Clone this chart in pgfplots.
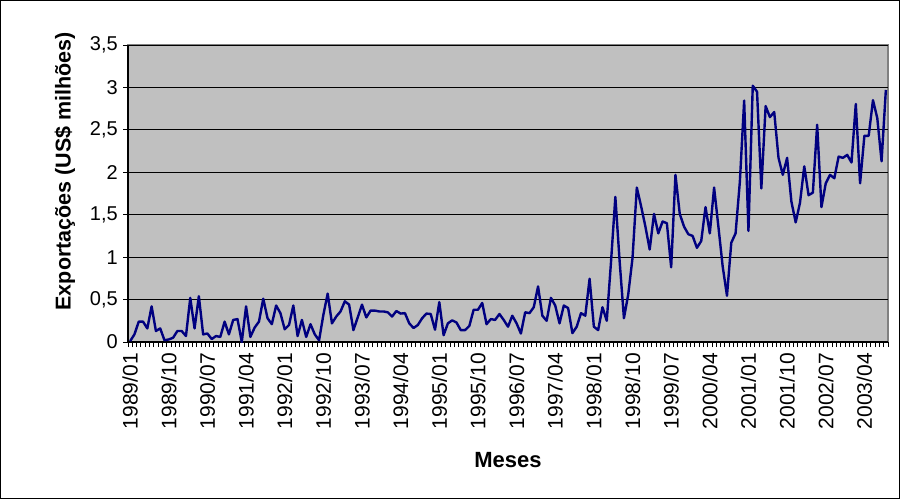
\documentclass[border=0pt]{standalone}
\usepackage{fontspec}
\setmainfont{Liberation Sans}
\usepackage{pgfplots}
\usepackage{pgfplotstable}
\pgfplotsset{compat=1.18}

\definecolor{plotgray}{RGB}{192,192,192}
\definecolor{bordergray}{RGB}{128,128,128}
\definecolor{seriesnavy}{RGB}{0,0,128}

% Monthly exports, US$ millions; month index 0 = 1989/01
\pgfplotstableread{
m v
0 0.01
1 0.09
2 0.24
3 0.24
4 0.16
5 0.42
6 0.13
7 0.16
8 0.02
9 0.03
10 0.05
11 0.13
12 0.13
13 0.07
14 0.52
15 0.16
16 0.54
17 0.09
18 0.10
19 0.035
20 0.07
21 0.06
22 0.24
23 0.09
24 0.26
25 0.27
26 0.00
27 0.42
28 0.06
29 0.17
30 0.24
31 0.51
32 0.28
33 0.21
34 0.43
35 0.34
36 0.15
37 0.20
38 0.43
39 0.07
40 0.26
41 0.06
42 0.21
43 0.09
44 0.02
45 0.32
46 0.57
47 0.22
48 0.30
49 0.36
50 0.48
51 0.44
52 0.14
53 0.29
54 0.44
55 0.29
56 0.37
57 0.37
58 0.36
59 0.36
60 0.35
61 0.30
62 0.365
63 0.335
64 0.34
65 0.22
66 0.165
67 0.20
68 0.28
69 0.335
70 0.33
71 0.145
72 0.47
73 0.08
74 0.22
75 0.255
76 0.23
77 0.14
78 0.14
79 0.19
80 0.38
81 0.38
82 0.46
83 0.21
84 0.27
85 0.26
86 0.33
87 0.26
88 0.18
89 0.31
90 0.22
91 0.10
92 0.35
93 0.34
94 0.41
95 0.655
96 0.31
97 0.25
98 0.52
99 0.43
100 0.22
101 0.43
102 0.40
103 0.105
104 0.18
105 0.34
106 0.31
107 0.745
108 0.18
109 0.14
110 0.41
111 0.25
112 0.95
113 1.71
114 0.95
115 0.28
116 0.56
117 0.99
118 1.82
119 1.60
120 1.36
121 1.09
122 1.51
123 1.28
124 1.42
125 1.40
126 0.88
127 1.97
128 1.51
129 1.36
130 1.27
131 1.25
132 1.11
133 1.19
134 1.59
135 1.28
136 1.82
137 1.36
138 0.89
139 0.545
140 1.17
141 1.28
142 1.89
143 2.845
144 1.31
145 3.02
146 2.95
147 1.81
148 2.78
149 2.65
150 2.71
151 2.17
152 1.97
153 2.17
154 1.655
155 1.41
156 1.64
157 2.07
158 1.73
159 1.76
160 2.56
161 1.59
162 1.87
163 1.97
164 1.93
165 2.185
166 2.17
167 2.205
168 2.115
169 2.805
170 1.87
171 2.43
172 2.43
173 2.85
174 2.64
175 2.13
176 2.97
}\exports

\begin{document}
\begin{tikzpicture}[x=1pt,y=1pt]
\useasboundingbox (0,0) rectangle (900,499);
\draw[black, line width=1pt] (0.5,0.5) rectangle (899.5,498.5);
\begin{axis}[
  at={(128pt,157pt)}, anchor=south west,
  scale only axis, width=760pt, height=297pt,
  xmin=-0.5, xmax=176.5, ymin=0, ymax=3.5,
  axis x line*=bottom, axis y line*=left,
  axis line style={black, line width=1.2pt},
  axis background/.style={fill=plotgray, draw=bordergray, line width=1.5pt},
  ytick={0,0.5,...,3.5},
  yticklabels={0,{0,5},1,{1,5},2,{2,5},3,{3,5}},
  ymajorgrids, major grid style={black, line width=0.9pt},
  xtick={0,9,...,171},
  xticklabels={1989/01,1989/10,1990/07,1991/04,1992/01,1992/10,1993/07,1994/04,1995/01,1995/10,1996/07,1997/04,1998/01,1998/10,1999/07,2000/04,2001/01,2001/10,2002/07,2003/04},
  % month boundaries carry the tick marks, labels sit on the months
  minor xtick={-0.5,0.5,...,176.5},
  tick align=outside,
  ytick style={black, line width=0.8pt},
  xtick style={draw=none},
  xminorticks=true,
  minor x tick style={draw=black, line width=0.8pt},
  major tick length=5pt, minor tick length=5pt,
  x tick label style={yshift=-6pt, rotate=90, anchor=east, font=\fontsize{21}{21}\selectfont, inner sep=0pt},
  y tick label style={font=\fontsize{20}{20}\selectfont, inner sep=0pt, xshift=-5pt},
  xlabel={\bfseries Meses},
  xlabel style={at={(axis description cs:0.5,-0.397)}, anchor=center, font=\fontsize{22}{22}\selectfont},
  ylabel={\bfseries Exportações (US\$ milhões)},
  ylabel style={at={(axis description cs:-0.083,0.575)}, anchor=center, font=\fontsize{21.5}{21.5}\selectfont},
  clip=false,
]
\addplot[seriesnavy, line width=2.4pt, line join=round] table[x=m, y=v] {\exports};
\end{axis}
\end{tikzpicture}
\end{document}
